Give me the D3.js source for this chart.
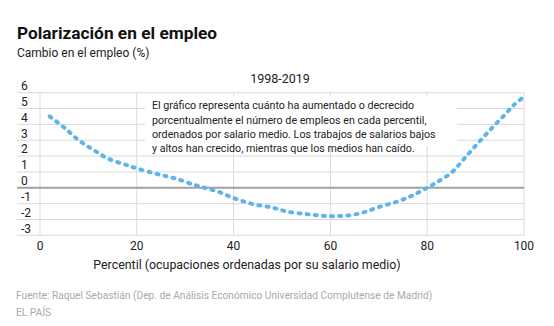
<!DOCTYPE html>
<html>
<head>
<meta charset="utf-8">
<script src="https://cdn.jsdelivr.net/npm/d3@7"></script>
<style>
  body { margin: 0; background: #fff; }
  svg { display: block; font-family: Roboto, "Liberation Sans", sans-serif; }
</style>
</head>
<body>
<script>
let W = 554;
let H = 326;

// datos
let percentil = [2, 5, 8, 11, 14, 18, 20, 24, 28, 32, 34, 37, 40, 44, 48, 51, 55, 58, 61, 64, 67, 70, 74, 77, 80, 82, 85, 87.4, 90, 93, 96, 98, 100];
let cambio = [4.5, 3.8, 3.0, 2.4, 1.85, 1.42, 1.22, 0.88, 0.58, 0.17, 0, -0.27, -0.65, -1.03, -1.25, -1.5, -1.66, -1.76, -1.79, -1.74, -1.54, -1.22, -0.85, -0.48, 0, 0.35, 0.95, 1.75, 2.65, 3.65, 4.6, 5.25, 5.75];
let yTicks = [6, 5, 4, 3, 2, 1, 0, -1, -2, -3];
let xTicks = [0, 20, 40, 60, 80, 100];
let nota = [
  "El gráfico representa cuánto ha aumentado o decrecido",
  "porcentualmente el número de empleos en cada percentil,",
  "ordenados por salario medio. Los trabajos de salarios bajos",
  "y altos han crecido, mientras que los medios han caído."
];

let svg = d3.select("body").append("svg")
  .attr("width", W)
  .attr("height", H);

let x = d3.scaleLinear().domain([0, 100]).range([40, 524]);
let y = d3.scaleLinear().domain([-3, 6]).range([235.3, 92.7]);

// titulos
svg.append("text").text("Polarización en el empleo")
  .attr("x", 17).attr("y", 39)
  .attr("font-size", 17.3).attr("font-weight", "bold").attr("fill", "#111");
svg.append("text").text("Cambio en el empleo (%)")
  .attr("x", 17).attr("y", 57.3)
  .attr("font-size", 12).attr("fill", "#222");
svg.append("text").text("1998-2019")
  .attr("x", 280).attr("y", 83)
  .attr("text-anchor", "middle")
  .attr("font-size", 12.5).attr("fill", "#222");

// rejilla horizontal
svg.append("g").selectAll("line")
  .data(yTicks.filter(d => d != 0))
  .enter().append("line")
  .attr("x1", 17).attr("x2", 524)
  .attr("y1", d => y(d)).attr("y2", d => y(d))
  .attr("stroke", "#d9d9d9").attr("stroke-width", 1);

// rejilla vertical
svg.append("g").selectAll("line")
  .data(xTicks)
  .enter().append("line")
  .attr("x1", d => x(d)).attr("x2", d => x(d))
  .attr("y1", y(6)).attr("y2", y(-3))
  .attr("stroke", "#d9d9d9").attr("stroke-width", 1);

// linea del cero
svg.append("line")
  .attr("x1", 17).attr("x2", 524)
  .attr("y1", y(0)).attr("y2", y(0))
  .attr("stroke", "#a0a0a0").attr("stroke-width", 2);

// etiquetas eje y
svg.append("g").selectAll("text")
  .data(yTicks)
  .enter().append("text")
  .text(d => d)
  .attr("x", 21).attr("y", d => y(d) - 2.7)
  .attr("font-size", 12).attr("fill", "#222");

// etiquetas eje x
svg.append("g").selectAll("text")
  .data(xTicks)
  .enter().append("text")
  .text(d => d)
  .attr("x", d => x(d)).attr("y", 249.5)
  .attr("text-anchor", "middle")
  .attr("font-size", 12).attr("fill", "#222");

svg.append("text").text("Percentil (ocupaciones ordenadas por su salario medio)")
  .attr("x", 247).attr("y", 269.3)
  .attr("text-anchor", "middle")
  .attr("font-size", 12.4).attr("fill", "#222");

// nota
svg.append("rect")
  .attr("x", 145).attr("y", 96)
  .attr("width", 312).attr("height", 50)
  .attr("fill", "#fff");
svg.append("g").selectAll("text")
  .data(nota)
  .enter().append("text")
  .text(d => d)
  .attr("x", 152).attr("y", (d, i) => 109.3 + i * 14.2)
  .attr("font-size", 10.7).attr("fill", "#222");

// curva punteada
let line = d3.line()
  .x((d, i) => x(percentil[i]))
  .y(d => y(d))
  .curve(d3.curveCatmullRom);
svg.append("path")
  .datum(cambio)
  .attr("d", line)
  .attr("fill", "none")
  .attr("stroke", "#5fb5e8")
  .attr("stroke-width", 4)
  .attr("stroke-linecap", "round")
  .attr("stroke-dasharray", "2,6.2");

// fuente
svg.append("text").text("Fuente: Raquel Sebastián (Dep. de Análisis Económico Universidad Complutense de Madrid)")
  .attr("x", 16).attr("y", 299)
  .attr("font-size", 10.2).attr("fill", "#aaa");
svg.append("text").text("EL PAÍS")
  .attr("x", 16).attr("y", 315.5)
  .attr("font-size", 10.2).attr("fill", "#aaa");
</script>
</body>
</html>
